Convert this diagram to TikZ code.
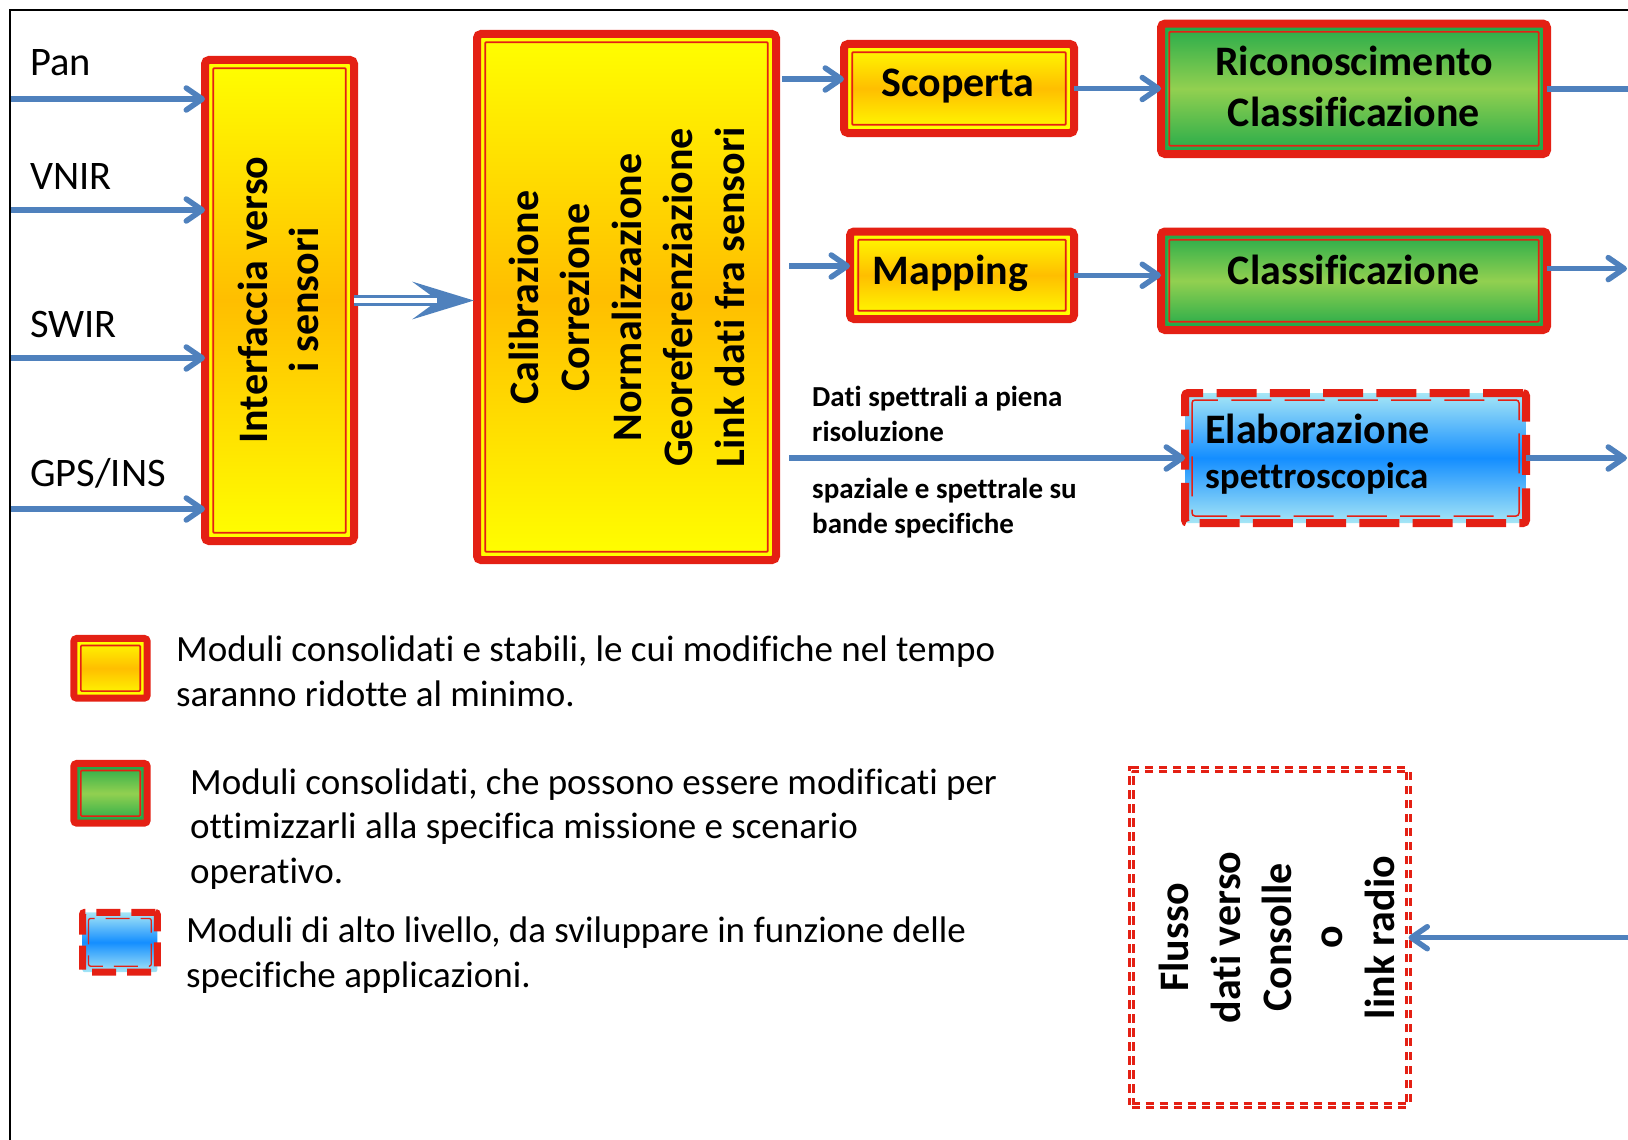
\documentclass[tikz,border=0pt]{standalone}
\usepackage{fontspec}
\setmainfont{Carlito}[Ligatures=NoCommon]
\usetikzlibrary{arrows.meta}
\definecolor{bred}{RGB}{228,32,20}
\definecolor{byel}{RGB}{255,255,0}
\definecolor{borange}{RGB}{255,190,0}
\definecolor{gdark}{RGB}{34,170,74}
\definecolor{glight}{RGB}{146,208,80}
\definecolor{blight}{RGB}{166,230,246}
\definecolor{bmid}{RGB}{20,142,255}
\definecolor{arrblue}{RGB}{79,129,189}
\begin{document}
\begin{tikzpicture}[x=1pt,y=-1pt,
  boxbase/.style={line width=8pt, rounded corners=4pt, outer sep=0pt, inner sep=0pt},
  innerlines/.style n args={5}{path picture={
      \draw[#1, line width=2.5pt, rounded corners=1pt] ([shift={(#3,#3)}]path picture bounding box.north west) rectangle ([shift={(-#3,-#3)}]path picture bounding box.south east);
      \draw[#2, line width=#5, rounded corners=1pt] ([shift={(#4,#4)}]path picture bounding box.north west) rectangle ([shift={(-#4,-#4)}]path picture bounding box.south east);}},
  ybox/.style={boxbase, draw=bred, top color=byel, bottom color=byel, middle color=borange, innerlines={byel}{bred}{5.3}{8.2}{1.8pt}},
  gbox/.style={boxbase, draw=bred, top color=gdark, bottom color=gdark, middle color=glight, innerlines={gdark}{bred}{5.3}{8.2}{1.8pt}},
  ysmall/.style={boxbase, line width=7pt, rounded corners=3pt, draw=bred, top color=byel, bottom color=byel, middle color=borange, innerlines={byel}{bred}{4.6}{7}{1.6pt}},
  gsmall/.style={boxbase, line width=7pt, rounded corners=3pt, draw=bred, top color=gdark, bottom color=gdark, middle color=glight, innerlines={gdark}{bred}{4.6}{7}{1.6pt}},
  bbox/.style={boxbase, rounded corners=3pt, draw=bred, dash pattern=on 40pt off 13.3pt, top color=blight, bottom color=blight, middle color=bmid,
    path picture={\draw[bred, line width=1.5pt, dash pattern=on 40pt off 13.3pt] ([shift={(7,7)}]path picture bounding box.north west) rectangle ([shift={(-7,-7)}]path picture bounding box.south east);}},
  bsmall/.style={boxbase, line width=7pt, rounded corners=2pt, draw=bred, dash pattern=on 24pt off 11pt, top color=blight, bottom color=blight, middle color=bmid,
    path picture={\draw[bred, line width=1.3pt, dash pattern=on 24pt off 11pt] ([shift={(6,6)}]path picture bounding box.north west) rectangle ([shift={(-6,-6)}]path picture bounding box.south east);}},
  fbox/.style={draw=bred, line width=3pt, double=white, double distance=1.2pt, dash pattern=on 8.5pt off 5.5pt, outer sep=0pt, inner sep=0pt},
  ltxt/.style={font=\fontsize{40.5}{49}\selectfont, inner sep=0pt},
  btxt/.style={font=\fontsize{42}{51.4}\selectfont\bfseries, inner sep=0pt, align=flush center},
  vtxt/.style={btxt, rotate=90},
  stxt/.style={font=\fontsize{29}{35.2}\selectfont\bfseries, inner sep=0pt, align=flush left, text width=300pt},
  lgtxt/.style={font=\fontsize{37}{44.7}\selectfont, inner sep=0pt, align=flush left, text width=900pt},
  arr/.style={draw=arrblue, line width=5.5pt, -{Straight Barb[length=16pt, width=22pt, round]}},
  plain/.style={draw=arrblue, line width=5.5pt}
]
\useasboundingbox (0,0) rectangle (1628,1140);
% frame
\coordinate (fbl) at (10,1150);
\coordinate (ftl) at (10,10);
\coordinate (ftr) at (1640,10);
\draw[line width=1.8pt] (fbl) -- (ftl) -- (ftr);

% boxes
\node[ybox, minimum width=149pt, minimum height=481pt] (iface) at (279.5,300.5) {};
\node[ybox, minimum width=299pt, minimum height=526pt] (calib) at (626.5,297) {};
\node[ybox, minimum width=230pt, minimum height=89pt] (scop) at (959,88.5) {};
\node[ybox, minimum width=224pt, minimum height=87.5pt] (map) at (962,275.25) {};
\node[gbox, minimum width=386pt, minimum height=130.4pt] (ric) at (1354,88.8) {};
\node[gbox, minimum width=386pt, minimum height=98.5pt] (cls) at (1354,280.75) {};
\node[bbox, minimum width=341pt, minimum height=130pt] (elab) at (1355.5,458) {};
\node[fbox, minimum width=277pt, minimum height=335.6pt] (flusso) at (1270,937.5) {};

% legend icons
\node[ysmall, minimum width=73.4pt, minimum height=59.7pt] (lg1) at (110.5,668.3) {};
\node[gsmall, minimum width=73.4pt, minimum height=59.7pt] (lg2) at (110.5,793.3) {};
\node[bsmall, minimum width=74.7pt, minimum height=59.7pt] (lg3) at (119.9,942.3) {};

% input labels
\node[ltxt, anchor=base west] (tpan) at (30,76) {Pan};
\node[ltxt, anchor=base west] (tvnir) at (30,189) {VNIR};
\node[ltxt, anchor=base west] (tswir) at (30,337) {SWIR};
\node[ltxt, anchor=base west] (tgps) at (30,486) {GPS/INS};

% box texts
\node[vtxt] (tiface) at (278.5,300) {Interfaccia verso\\i sensori};
\node[vtxt] (tcalib) at (626.8,297.5) {Calibrazione\\Correzione\\Normalizzazione\\Georeferenziazione\\Link dati fra sensori};
\node[btxt, anchor=base] (tscop) at (958,96.4) {Scoperta};
\node[btxt, anchor=base] (tmap) at (950.5,284.5) {Mapping};
\node[btxt, anchor=base, text width=400pt] (tric) at (1354,75) {Riconoscimento\\Classificazione};
\node[btxt, anchor=base] (tcls) at (1354,284) {Classificazione};
\node[btxt, anchor=base west] (telab) at (1205,443) {Elaborazione};
\node[btxt, font=\fontsize{37}{45}\selectfont\bfseries, anchor=base west] (tspet) at (1205,488.6) {spettroscopica};
\node[vtxt] (tflusso) at (1277,937.5) {Flusso\\dati verso\\Consolle\\o\\link radio};

% data labels
\node[stxt, anchor=base west] (tdati1) at (812,406.4) {Dati spettrali a piena\\risoluzione};
\node[stxt, anchor=base west] (tdati2) at (812,498) {spaziale e spettrale su\\bande specifiche};

% legend texts
\node[lgtxt, anchor=base west] (tl1) at (176,661.7) {Moduli consolidati e stabili, le cui modifiche nel tempo\\saranno ridotte al minimo.};
\node[lgtxt, anchor=base west] (tl2) at (190,794) {Moduli consolidati, che possono essere modificati per\\ottimizzarli alla specifica missione e scenario\\operativo.};
\node[lgtxt, anchor=base west] (tl3) at (186,942.7) {Moduli di alto livello, da sviluppare in funzione delle\\specifiche applicazioni.};

% input arrows
\coordinate (inpan) at (11,99);
\coordinate (invnir) at (11,210);
\coordinate (inswir) at (11,358);
\coordinate (ingps) at (11,509);
\draw[arr] (inpan) -- (inpan -| iface.west);
\draw[arr] (invnir) -- (invnir -| iface.west);
\draw[arr] (inswir) -- (inswir -| iface.west);
\draw[arr] (ingps) -- (ingps -| iface.west);

% double arrow
\draw[draw=arrblue, line width=11pt, -{Stealth[length=61pt, width=37pt, inset=25pt]}, shorten >=3pt] (iface.east) -- (iface.east -| calib.west);
\draw[white, line width=5pt, shorten >=40pt] (iface.east) -- (iface.east -| calib.west);

% right arrows
\coordinate (inscop) at (782,79);
\coordinate (inmap) at (789,266);
\draw[arr] (inscop) -- (inscop -| scop.west);
\draw[arr] (inmap) -- (inmap -| map.west);
\draw[arr] (scop.east) -- (scop.east -| ric.west);
\draw[arr] (map.east) -- (map.east -| cls.west);
\coordinate (ricout) at (1640,88.8);
\draw[plain] (ric.east) -- (ricout);
\coordinate (clsout) at (1627,268.6);
\draw[arr] (clsout -| cls.east) -- (clsout);
\coordinate (datain) at (789,458);
\draw[arr] (datain) -- (elab.west);
\coordinate (elabout) at (1627,458);
\draw[arr] (elab.east) -- (elabout);
\coordinate (flin) at (1640,937.7);
\draw[arr] (flin) -- (flin -| flusso.east);
\end{tikzpicture}
\end{document}
